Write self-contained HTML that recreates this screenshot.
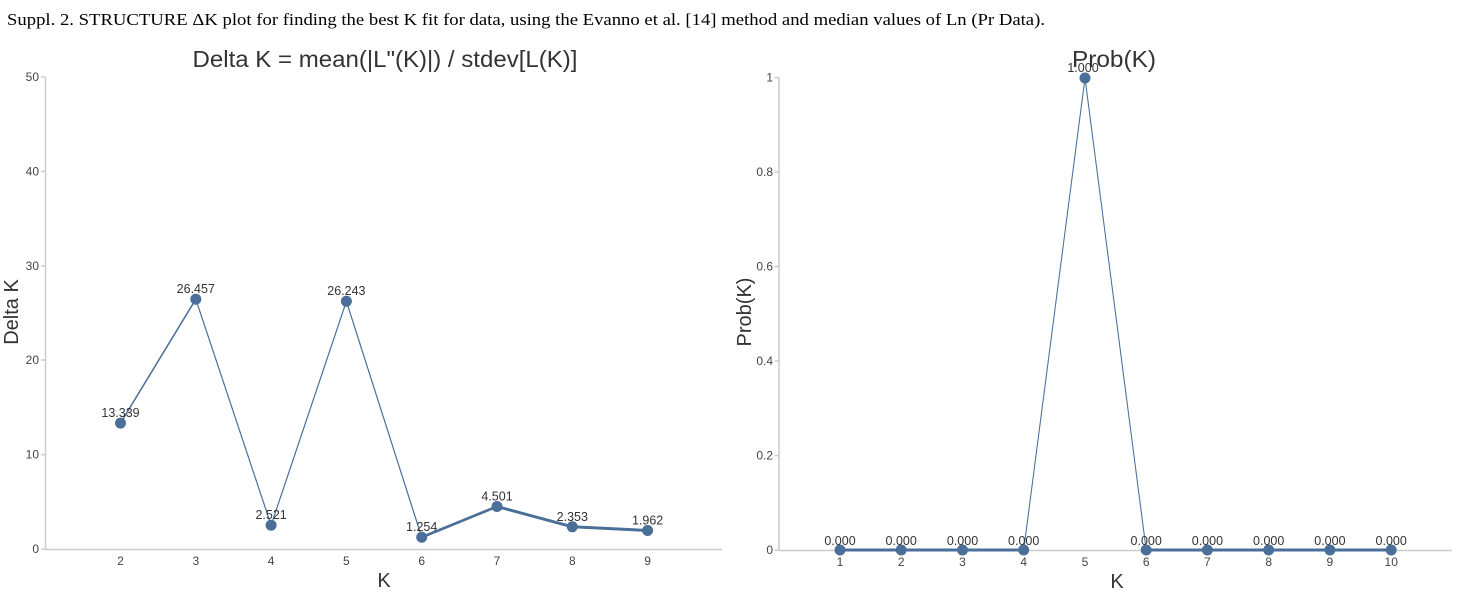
<!DOCTYPE html>
<html><head><meta charset="utf-8"><style>
html,body{margin:0;padding:0;background:#fff;}
svg{display:block;}
text{font-family:"Liberation Sans",Arial,sans-serif;}
</style></head><body>
<svg width="1460" height="600" viewBox="0 0 1460 600" xmlns="http://www.w3.org/2000/svg">
<text x="7" y="25" font-family="Liberation Serif, serif" style="font-family:'Liberation Serif',serif" font-size="17" fill="#000" textLength="1038" lengthAdjust="spacingAndGlyphs">Suppl. 2. STRUCTURE ΔK plot for finding the best K fit for data, using the Evanno et al. [14] method and median values of Ln (Pr Data).</text>

<!-- LEFT CHART -->
<text x="385" y="67" font-size="23" fill="#333" text-anchor="middle" textLength="385" lengthAdjust="spacingAndGlyphs">Delta K = mean(|L"(K)|) / stdev[L(K)]</text>
<g stroke="#ccc" stroke-width="1.5" fill="none">
<line x1="45.5" y1="77" x2="45.5" y2="549.5"/>
<line x1="45" y1="549.5" x2="722" y2="549.5"/>
<line x1="41" y1="77" x2="45.5" y2="77"/>
<line x1="41" y1="171.5" x2="45.5" y2="171.5"/>
<line x1="41" y1="266" x2="45.5" y2="266"/>
<line x1="41" y1="360" x2="45.5" y2="360"/>
<line x1="41" y1="454.6" x2="45.5" y2="454.6"/>
<line x1="41" y1="549" x2="45.5" y2="549"/>
</g>
<g font-size="12" fill="#444" text-anchor="end">
<text x="39" y="81">50</text>
<text x="39" y="175.5">40</text>
<text x="39" y="270">30</text>
<text x="39" y="364">20</text>
<text x="39" y="458.6">10</text>
<text x="39" y="553">0</text>
</g>
<g font-size="12" fill="#444" text-anchor="middle">
<text x="120.5" y="565">2</text>
<text x="195.8" y="565">3</text>
<text x="271.1" y="565">4</text>
<text x="346.4" y="565">5</text>
<text x="421.7" y="565">6</text>
<text x="497" y="565">7</text>
<text x="572.3" y="565">8</text>
<text x="647.6" y="565">9</text>
</g>
<text x="384" y="587" font-size="20" fill="#333" text-anchor="middle">K</text>
<text transform="translate(18,312) rotate(-90)" font-size="20" fill="#333" text-anchor="middle">Delta K</text>
<g stroke="#4a6f98" fill="none" stroke-linecap="round">
<line x1="120.5" y1="423.1" x2="195.8" y2="299.2" stroke-width="1.5"/>
<line x1="195.8" y1="299.2" x2="271.1" y2="525.2" stroke-width="1.2"/>
<line x1="271.1" y1="525.2" x2="346.4" y2="301.3" stroke-width="1.2"/>
<line x1="346.4" y1="301.3" x2="421.7" y2="537.2" stroke-width="1.2"/>
<line x1="421.7" y1="537.2" x2="497" y2="506.5" stroke-width="2.7"/>
<line x1="497" y1="506.5" x2="572.3" y2="526.8" stroke-width="2.9"/>
<line x1="572.3" y1="526.8" x2="647.6" y2="530.5" stroke-width="3"/>
</g>
<g fill="#4a6f98">
<circle cx="120.5" cy="423.1" r="5.5"/>
<circle cx="195.8" cy="299.2" r="5.5"/>
<circle cx="271.1" cy="525.2" r="5.5"/>
<circle cx="346.4" cy="301.3" r="5.5"/>
<circle cx="421.7" cy="537.2" r="5.5"/>
<circle cx="497" cy="506.5" r="5.5"/>
<circle cx="572.3" cy="526.8" r="5.5"/>
<circle cx="647.6" cy="530.5" r="5.5"/>
</g>
<g font-size="12.5" fill="#333" text-anchor="middle">
<text x="120.5" y="417">13.339</text>
<text x="195.8" y="293">26.457</text>
<text x="271.1" y="519">2.521</text>
<text x="346.4" y="295">26.243</text>
<text x="421.7" y="531">1.254</text>
<text x="497" y="500.5">4.501</text>
<text x="572.3" y="520.8">2.353</text>
<text x="647.6" y="524.5">1.962</text>
</g>

<!-- RIGHT CHART -->
<g stroke="#ccc" stroke-width="1.5" fill="none">
<line x1="779" y1="77.6" x2="779" y2="550.5"/>
<line x1="778.5" y1="550.5" x2="1452" y2="550.5"/>
<line x1="774.5" y1="77.6" x2="779" y2="77.6"/>
<line x1="774.5" y1="172" x2="779" y2="172"/>
<line x1="774.5" y1="266.6" x2="779" y2="266.6"/>
<line x1="774.5" y1="361" x2="779" y2="361"/>
<line x1="774.5" y1="455.6" x2="779" y2="455.6"/>
<line x1="774.5" y1="550" x2="779" y2="550"/>
</g>
<g font-size="12" fill="#444" text-anchor="end">
<text x="773" y="81.6">1</text>
<text x="773" y="176">0.8</text>
<text x="773" y="270.6">0.6</text>
<text x="773" y="365">0.4</text>
<text x="773" y="459.6">0.2</text>
<text x="773" y="554">0</text>
</g>
<text transform="translate(751,312) rotate(-90)" font-size="20" fill="#333" text-anchor="middle">Prob(K)</text>
<text x="1117" y="588" font-size="20" fill="#333" text-anchor="middle">K</text>
<g stroke="#4a6f98" fill="none" stroke-linecap="round">
<line x1="840" y1="550" x2="1023.7" y2="550" stroke-width="3"/>
<line x1="1023.7" y1="550" x2="1085" y2="78" stroke-width="1.05"/>
<line x1="1085" y1="78" x2="1146.2" y2="550" stroke-width="1.05"/>
<line x1="1146.2" y1="550" x2="1391" y2="550" stroke-width="3"/>
</g>
<g fill="#4a6f98">
<circle cx="840" cy="550" r="5.5"/>
<circle cx="901.2" cy="550" r="5.5"/>
<circle cx="962.5" cy="550" r="5.5"/>
<circle cx="1023.7" cy="550" r="5.5"/>
<circle cx="1085" cy="78" r="5.5"/>
<circle cx="1146.2" cy="550" r="5.5"/>
<circle cx="1207.4" cy="550" r="5.5"/>
<circle cx="1268.7" cy="550" r="5.5"/>
<circle cx="1329.9" cy="550" r="5.5"/>
<circle cx="1391.2" cy="550" r="5.5"/>
</g>
<g font-size="12" fill="#444" text-anchor="middle">
<text x="840" y="566">1</text>
<text x="901.2" y="566">2</text>
<text x="962.5" y="566">3</text>
<text x="1023.7" y="566">4</text>
<text x="1085" y="566">5</text>
<text x="1146.2" y="566">6</text>
<text x="1207.4" y="566">7</text>
<text x="1268.7" y="566">8</text>
<text x="1329.9" y="566">9</text>
<text x="1391.2" y="566">10</text>
</g>
<g font-size="12.5" fill="#333" text-anchor="middle">
<text x="840" y="545">0.000</text>
<text x="901.2" y="545">0.000</text>
<text x="962.5" y="545">0.000</text>
<text x="1023.7" y="545">0.000</text>
<text x="1083" y="72">1.000</text>
<text x="1146.2" y="545">0.000</text>
<text x="1207.4" y="545">0.000</text>
<text x="1268.7" y="545">0.000</text>
<text x="1329.9" y="545">0.000</text>
<text x="1391.2" y="545">0.000</text>
</g>
<text x="1114" y="67" font-size="23" fill="#333" text-anchor="middle" textLength="84" lengthAdjust="spacingAndGlyphs">Prob(K)</text>
</svg>
</body></html>
